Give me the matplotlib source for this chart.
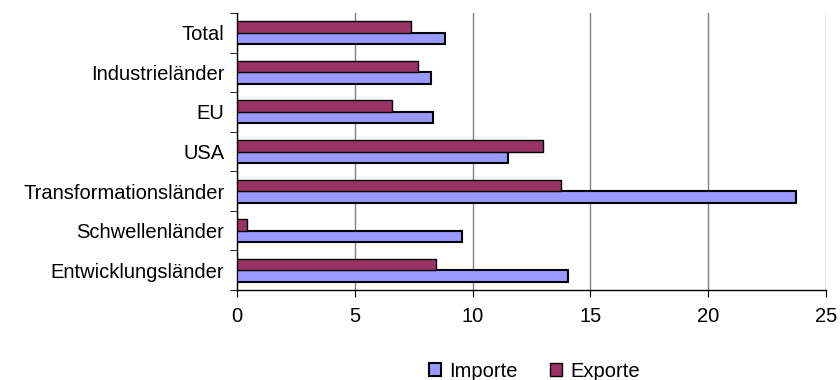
import matplotlib.pyplot as plt
import numpy as np

plt.rcParams['font.family'] = ['Liberation Sans', 'DejaVu Sans']
plt.rcParams['font.size'] = 14.5

categories = ['Total', 'Industrieländer', 'EU', 'USA', 'Transformationsländer',
              'Schwellenländer', 'Entwicklungsländer']
importe = [8.83, 8.22, 8.31, 11.5, 23.73, 9.53, 14.03]
exporte = [7.37, 7.70, 6.60, 13.0, 13.77, 0.42, 8.44]

fig = plt.figure(figsize=(8.4, 3.8), dpi=100)
ax = fig.add_axes([237 / 840, 1 - 290 / 380, 589 / 840, 277 / 380])

y = np.arange(len(categories))[::-1]
h = 0.29
ax.barh(y - h / 2, importe, height=h, color='#9999FF', edgecolor='black', linewidth=1.5,
        label='Importe', zorder=3)
ax.barh(y + h / 2, exporte, height=h, color='#993366', edgecolor='black', linewidth=1.0,
        label='Exporte', zorder=3)

ax.set_xlim(0, 25)
ax.set_ylim(-0.5, len(categories) - 0.5)
ax.set_xticks([0, 5, 10, 15, 20, 25])
ax.set_yticks(y)
ax.set_yticklabels(categories)
ax.set_yticks(np.arange(len(categories) + 1) - 0.5, minor=True)
ax.tick_params(axis='y', which='major', length=0, pad=9)
ax.tick_params(axis='y', which='minor', length=5, direction='out')
ax.tick_params(axis='x', length=5, direction='out', pad=7)

ax.grid(axis='x', color='#808080', linewidth=1.0, zorder=0)
for s in ['top', 'right']:
    ax.spines[s].set_visible(False)
ax.spines['left'].set_linewidth(1.0)
ax.spines['bottom'].set_linewidth(1.0)

fig.legend(loc='lower center', bbox_to_anchor=(0.636, -0.05), ncol=2, frameon=False,
           handlelength=0.6, handleheight=0.6, columnspacing=1.6, handletextpad=0.4)

plt.savefig('out.png', dpi=100)
